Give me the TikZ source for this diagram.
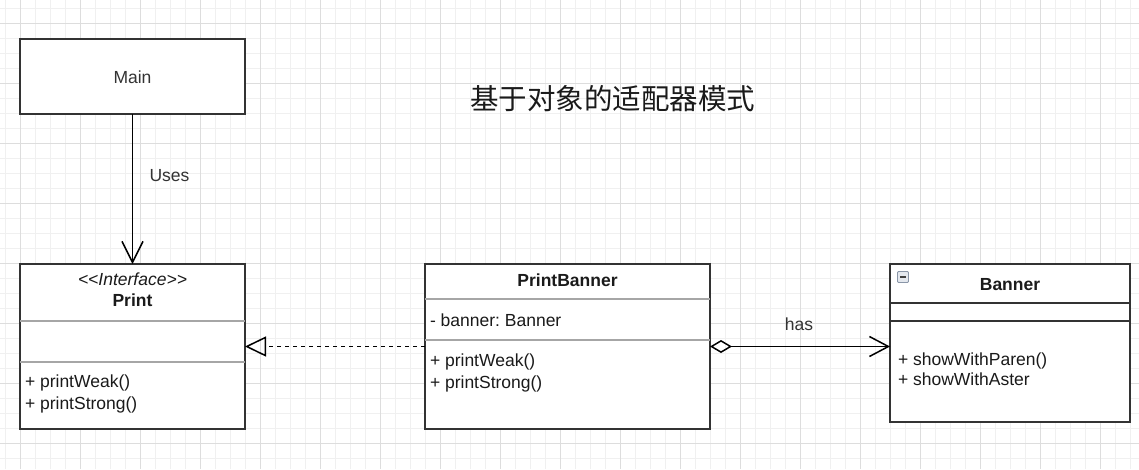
\documentclass[tikz,border=0pt]{standalone}
\usepackage{fontspec}
\setmainfont{Liberation Sans}
\newfontfamily\cjk{Noto Sans CJK SC}
\usetikzlibrary{arrows.meta}
\frenchspacing
\definecolor{border}{HTML}{333333}
\definecolor{sepgray}{HTML}{A6A6A6}
\definecolor{txt}{HTML}{1A1A1A}
\definecolor{gridmajor}{HTML}{DDDDDD}
\definecolor{gridminor}{HTML}{F0F0F0}
\definecolor{iconedge}{HTML}{8A96A8}
\definecolor{iconfill}{HTML}{E4E8EE}
\tikzset{
  box/.style={draw=border, line width=1.5pt, fill=white, rectangle, inner sep=0pt, outer sep=0pt, anchor=north west},
  lbl/.style={inner sep=0pt, outer sep=0pt, text=txt, font=\fontsize{17.5}{21}\selectfont},
  member/.style={lbl, anchor=base west},
  ctitle/.style={lbl, anchor=base, font=\fontsize{17.5}{21}\selectfont\bfseries},
  sepline/.style={draw=sepgray, line width=1.5pt},
  darksep/.style={draw=border, line width=1.5pt},
  conn/.style={draw=black, line width=1.5pt},
}
\begin{document}
\begin{tikzpicture}[x=1pt, y=-1pt]
\useasboundingbox (0,0) rectangle (1139,469);
\fill[white] (0,0) rectangle (1139,469);
% grid
\foreach \x in {5,20,...,1139} \draw[gridminor, line width=1pt] (\x,0) -- (\x,469);
\foreach \y in {8,23,...,469} \draw[gridminor, line width=1pt] (0,\y) -- (1139,\y);
\foreach \x in {20,80,...,1139} \draw[gridmajor, line width=1pt] (\x,0) -- (\x,469);
\foreach \y in {23,83,...,469} \draw[gridmajor, line width=1pt] (0,\y) -- (1139,\y);

% title
\node[inner sep=0pt, text=txt, font=\cjk\fontsize{28.5}{32}\selectfont] (title) at (612.5,98.5) {基于对象的适配器模式};

% Main
\node[box, minimum width=225pt, minimum height=75pt] (main) at (20,39) {};
\node[lbl, anchor=base, text=border] (maintxt) at (132.5,83.3) {Main};

% Print interface
\node[box, minimum width=225pt, minimum height=165pt] (print) at (20,264) {};
\draw[sepline] (20,321) -- (245,321);
\draw[sepline] (20,362) -- (245,362);
\node[lbl, anchor=base, font=\fontsize{17.5}{21}\selectfont\itshape] (stereo) at (132.5,285) {<{}<Interface>{}>};
\node[ctitle] (printname) at (132.5,306.5) {Print};
\node[member] (pw1) at (25,387.5) {+ printWeak()};
\node[member] (ps1) at (25,409) {+ printStrong()};

% PrintBanner
\node[box, minimum width=285pt, minimum height=165pt] (pb) at (425,264) {};
\draw[sepline] (425,299) -- (710,299);
\draw[sepline] (425,340) -- (710,340);
\node[ctitle] (pbname) at (567.5,286.5) {PrintBanner};
\node[member] (pbf) at (430,326.5) {- banner: Banner};
\node[member] (pw2) at (430,366.5) {+ printWeak()};
\node[member] (ps2) at (430,388) {+ printStrong()};

% Banner
\node[box, minimum width=240pt, minimum height=158pt] (banner) at (890,264) {};
\draw[darksep] (890,303) -- (1130,303);
\draw[darksep] (890,321) -- (1130,321);
\draw[draw=iconedge, fill=iconfill, line width=0.8pt, rounded corners=1pt] (897.5,271.5) rectangle (908.5,282.5);
\draw[black!75, line width=1.4pt] (900,277) -- (906,277);
\node[ctitle] (bname) at (1010,290) {Banner};
\node[member] (sp) at (898,365) {+ showWithParen()};
\node[member] (sa) at (898,385.5) {+ showWithAster};

% connectors
\draw[conn, -{Straight Barb[length=21pt, width=21pt]}] (main.south) -- (print.north);
\node[lbl, anchor=base west, text=border] (uses) at (149.5,181) {Uses};

\draw[conn, dash pattern=on 4.5pt off 3.5pt, -{Triangle[open, length=21pt, width=20pt]}] (pb.west) -- (print.east);

\draw[conn, {Diamond[open, length=22pt, width=13pt]}-{Straight Barb[length=19pt, width=20pt]}] (pb.east) -- (pb.east -| banner.west);
\node[lbl, anchor=base, text=border] (has) at (799,330.7) {has};
\end{tikzpicture}
\end{document}
